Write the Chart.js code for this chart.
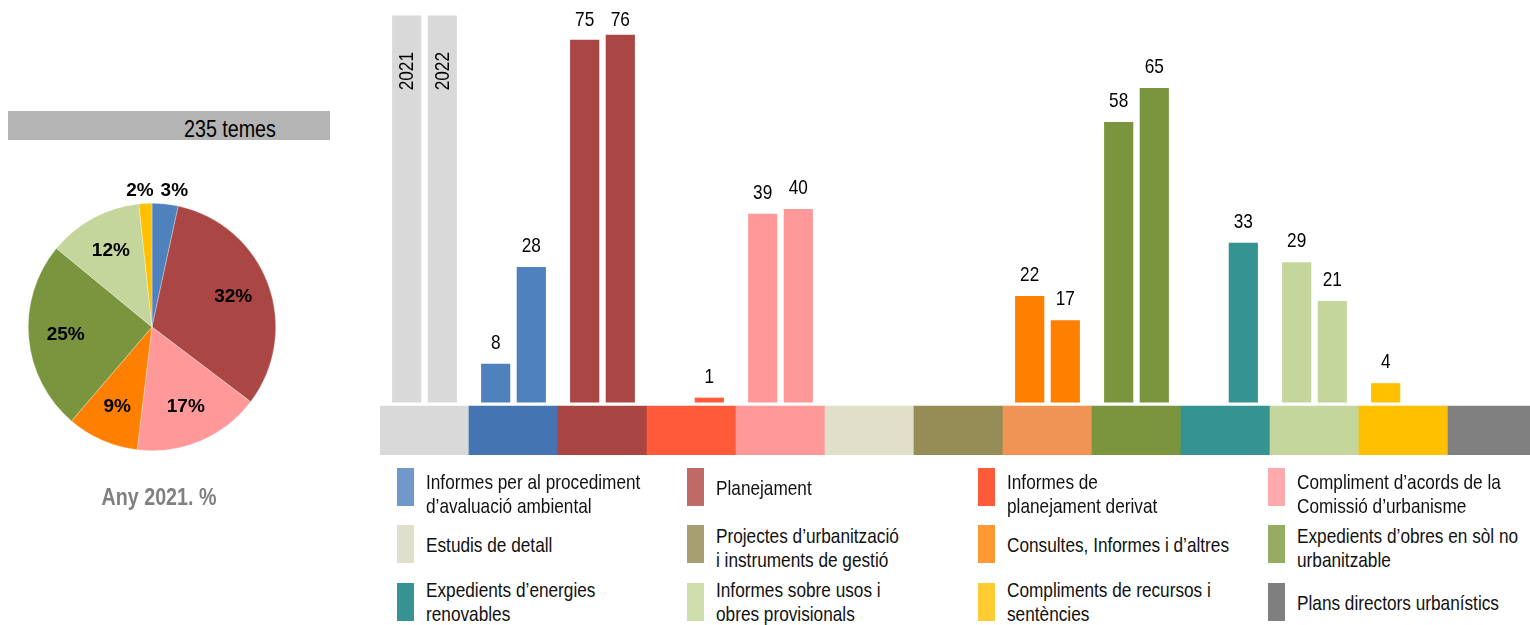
<!DOCTYPE html>
<html><head><meta charset="utf-8">
<script src="https://cdn.jsdelivr.net/npm/chart.js@4.4.1/dist/chart.umd.min.js"></script>
<style>
html,body{margin:0;padding:0;background:#fff;}
body{width:1530px;height:625px;overflow:hidden;position:relative;font-family:"Liberation Sans",Arial,sans-serif;}
.abs{position:absolute;}
.nw{white-space:pre;}
</style></head><body>
<div class="abs" style="left:8px;top:111px;width:322px;height:29px;background:#B4B4B4"></div>
<div id="total" class="abs nw" style="left:184px;top:114px;font-size:24px;line-height:29px;color:#000;transform-origin:0 50%"></div>
<canvas id="pie" class="abs" width="304" height="354" style="left:0;top:150px"></canvas>
<div id="pieCap" class="abs nw" style="left:59px;width:200px;top:485px;text-align:center;font-weight:bold;font-size:24px;line-height:24px;color:#808080"></div>
<canvas id="bars" class="abs" width="1157" height="455" style="left:380px;top:0"></canvas>
<div id="legend"></div>
<script>
// ---------- data ----------
const years = ['2021', '2022'];
const themes = [
  'Informes per al procediment\nd\u2019avaluació ambiental',
  'Planejament',
  'Informes de\nplanejament derivat',
  'Compliment d\u2019acords de la\nComissió d\u2019urbanisme',
  'Estudis de detall',
  'Projectes d\u2019urbanització\ni instruments de gestió',
  'Consultes, Informes i d\u2019altres',
  'Expedients d\u2019obres en sòl no\nurbanitzable',
  'Expedients d\u2019energies\nrenovables',
  'Informes sobre usos i\nobres provisionals',
  'Compliments de recursos i\nsentències',
  'Plans directors urbanístics'
];
const values2021 = [8, 75, 0, 39, 0, 0, 22, 58, 0, 29, 4, 0];
const values2022 = [28, 76, 1, 40, 0, 0, 17, 65, 33, 21, 0, 0];
const headerValue = 80;
const headerColor = '#D9D9D9';
const barColors = ['#4F81BD','#AA4644','#FF5B3A','#FF9999','#E0DFCA','#968C55','#FF8000','#7A953D','#359391','#C4D69C','#FFC000','#808080'];
const stripColors = ['#4475B2','#A94644','#FF5B3A','#FF9999','#E0DFCA','#968C55','#F09455','#7A953D','#359391','#C4D69C','#FFC000','#808080'];
const legendColors = ['#7099C9','#BE6A67','#FF5B3A','#FFAAAA','#E0DFCB','#A59E71','#FF9933','#96AC63','#379391','#CEDFAD','#FFCC33','#7F7F7F'];

// ---------- fonts ----------
function hasFont(name){
  const c = document.createElement('canvas').getContext('2d');
  const s = 'Informes mmm 2021 iiWW';
  c.font = '40px monospace'; const a = c.measureText(s).width;
  c.font = '40px "' + name + '", monospace'; return c.measureText(s).width !== a;
}
const HAS_NARROW = hasFont('Liberation Sans Narrow');
const NARROW = HAS_NARROW ? '"Liberation Sans Narrow"' : '"Liberation Sans"';
const NSCALE = HAS_NARROW ? 1 : 0.82;
function narrowEl(el){
  el.style.fontFamily = NARROW;
  if (NSCALE !== 1) el.style.transform = 'scaleX(' + NSCALE + ')';
}

// ---------- header texts ----------
const total2021 = values2021.reduce((a, b) => a + b, 0);
const totalEl = document.getElementById('total');
totalEl.textContent = total2021 + ' temes';
narrowEl(totalEl);
const capEl = document.getElementById('pieCap');
capEl.textContent = 'Any ' + years[0] + '. %';
narrowEl(capEl);

// ---------- pie ----------
const pieVals = [], pieCols = [], pieLabels = [];
values2021.forEach((v, i) => { if (v > 0) { pieVals.push(v); pieCols.push(barColors[i]); pieLabels.push(themes[i]); } });

const pieLabelPlugin = {
  id: 'pieLabels',
  afterDatasetsDraw(chart) {
    const ctx = chart.ctx;
    const meta = chart.getDatasetMeta(0);
    const data = chart.data.datasets[0].data;
    const tot = data.reduce((a, b) => a + b, 0);
    meta.data.forEach((arc, i) => {
      const p = arc.getProps(['x','y','startAngle','endAngle','outerRadius'], true);
      const mid = (p.startAngle + p.endAngle) / 2;
      const txt = Math.round(data[i] / tot * 100) + '%';
      ctx.save();
      ctx.font = 'bold 19px "Liberation Sans"';
      ctx.fillStyle = '#000';
      ctx.textBaseline = 'middle';
      if (data[i] / tot >= 0.05) {
        ctx.textAlign = 'center';
        ctx.fillText(txt, p.x + Math.cos(mid) * p.outerRadius * 0.7, p.y + Math.sin(mid) * p.outerRadius * 0.7);
      } else {
        const R = p.outerRadius + 13;
        const px = p.x + Math.cos(mid) * R, py = p.y + Math.sin(mid) * R;
        if (Math.cos(mid) >= 0) { ctx.textAlign = 'left'; ctx.fillText(txt, px - 6, py); }
        else { ctx.textAlign = 'right'; ctx.fillText(txt, px + 9, py); }
      }
      ctx.restore();
    });
  }
};

new Chart(document.getElementById('pie'), {
  type: 'pie',
  data: { labels: pieLabels, datasets: [{ data: pieVals, backgroundColor: pieCols, borderColor: 'rgba(255,255,255,0.6)', borderWidth: 0.5 }] },
  options: {
    responsive: false, animation: false,
    layout: { padding: { left: 28, right: 28, top: 53, bottom: 53 } },
    plugins: { legend: { display: false }, tooltip: { enabled: false } }
  },
  plugins: [pieLabelPlugin]
});

// ---------- bars ----------
const catLabels = [''].concat(themes.map(t => t.replace('\n', ' ')));
const colorsWithHeader = [headerColor].concat(barColors);
const stripWithHeader = [headerColor].concat(stripColors);
const yMin = -10.85, yMax = 83.2, stripTop = -0.72;

const valuePlugin = {
  id: 'values',
  afterDatasetsDraw(chart) {
    const ctx = chart.ctx;
    [0, 1].forEach(di => {
      const meta = chart.getDatasetMeta(di);
      const data = chart.data.datasets[di].data;
      meta.data.forEach((el, i) => {
        const v = data[i];
        ctx.save();
        ctx.fillStyle = '#000';
        ctx.font = '21px ' + NARROW;
        if (i === 0) {
          ctx.translate(el.x, 52);
          ctx.rotate(-Math.PI / 2);
          ctx.scale(NSCALE, 1);
          ctx.textAlign = 'right';
          ctx.textBaseline = 'middle';
          ctx.fillText(chart.data.datasets[di].label, 0, 1);
        } else if (v > 0) {
          ctx.translate(el.x, Math.max(el.y - 15, 26));
          ctx.scale(NSCALE, 1);
          ctx.textAlign = 'center';
          ctx.textBaseline = 'alphabetic';
          ctx.fillText(String(v), 0, 0);
        }
        ctx.restore();
      });
    });
  }
};

new Chart(document.getElementById('bars'), {
  type: 'bar',
  data: {
    labels: catLabels,
    datasets: [
      { label: years[0], data: [headerValue].concat(values2021), backgroundColor: colorsWithHeader, categoryPercentage: 0.8, barPercentage: 0.82 },
      { label: years[1], data: [headerValue].concat(values2022), backgroundColor: colorsWithHeader, categoryPercentage: 0.8, barPercentage: 0.82 },
      { label: 'strip', data: catLabels.map(() => [yMin, stripTop]), backgroundColor: stripWithHeader, grouped: false, categoryPercentage: 1, barPercentage: 1 }
    ]
  },
  options: {
    responsive: false, animation: false,
    layout: { padding: 0 },
    scales: {
      x: { display: false, offset: true, grid: { display: false } },
      y: { display: false, min: yMin, max: yMax }
    },
    plugins: { legend: { display: false }, tooltip: { enabled: false } }
  },
  plugins: [valuePlugin]
});

// ---------- legend ----------
const legend = document.getElementById('legend');
themes.forEach((t, i) => {
  const col = i % 4, row = Math.floor(i / 4);
  const sqX = Math.round(397 + col * 290.3);
  const cy = 486.5 + row * 57.75;
  const sq = document.createElement('div');
  sq.className = 'abs';
  sq.style.cssText = `left:${sqX}px;top:${cy - 19}px;width:17px;height:38px;background:${legendColors[i]}`;
  legend.appendChild(sq);
  const tx = document.createElement('div');
  tx.className = 'abs nw';
  const lines = t.split('\n').length;
  const off = lines > 1 ? 16.8 + 3.5 * row : 10.8;
  tx.style.cssText = `left:${sqX + 29}px;top:${cy - off}px;font-size:21px;line-height:24px;color:#111;transform-origin:0 50%`;
  tx.textContent = t;
  narrowEl(tx);
  legend.appendChild(tx);
});
</script>
</body></html>
